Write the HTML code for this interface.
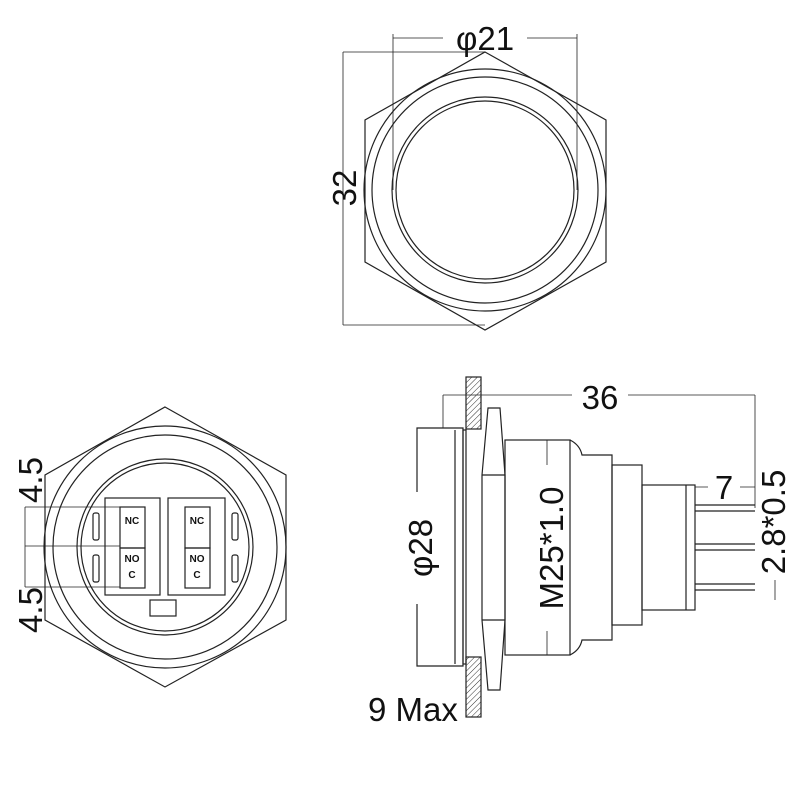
<html><body style="margin:0;background:#fff">
<svg width="800" height="800" viewBox="0 0 800 800" xmlns="http://www.w3.org/2000/svg" font-family="Liberation Sans, sans-serif">
<defs><pattern id="h" width="4" height="4" patternUnits="userSpaceOnUse" patternTransform="rotate(45)"><line x1="0" y1="0" x2="0" y2="4" stroke="#333" stroke-width="1"/></pattern></defs>
<g fill="none" stroke="#222" stroke-width="1.2">
<polygon points="485,52 606,120 606,262 485,330 365,262 365,120"/>
<circle cx="485" cy="190" r="121"/>
<circle cx="485" cy="190" r="113"/>
<circle cx="485" cy="190" r="93"/>
<circle cx="485" cy="190" r="89"/>
<line x1="393" y1="38" x2="577" y2="38" stroke-width="0.8"/>
<line x1="393" y1="34" x2="393" y2="190" stroke-width="0.8"/>
<line x1="577" y1="34" x2="577" y2="190" stroke-width="0.8"/>
<line x1="343" y1="52" x2="485" y2="52" stroke-width="0.8"/>
<line x1="343" y1="325" x2="485" y2="325" stroke-width="0.8"/>
<line x1="343" y1="52" x2="343" y2="325" stroke-width="0.8"/>
<polygon points="165,407 286,475 286,620 165,687 45,620 45,475"/>
<circle cx="165" cy="547" r="121"/>
<circle cx="165" cy="547" r="112"/>
<circle cx="165" cy="547" r="88"/>
<circle cx="165" cy="547" r="84"/>
<rect x="105" y="498" width="55" height="97"/>
<rect x="168" y="498" width="57" height="97"/>
<rect x="120" y="507" width="25" height="41"/>
<rect x="120" y="548" width="25" height="40"/>
<rect x="185" y="507" width="25" height="41"/>
<rect x="185" y="548" width="25" height="40"/>
<rect x="150" y="600" width="26" height="16"/>
<rect x="93" y="513" width="6" height="27" rx="2"/>
<rect x="93" y="555" width="6" height="27" rx="2"/>
<rect x="232" y="513" width="6" height="27" rx="2"/>
<rect x="232" y="555" width="6" height="27" rx="2"/>
<line x1="25" y1="507" x2="120" y2="507" stroke-width="0.8"/>
<line x1="25" y1="546" x2="120" y2="546" stroke-width="0.8"/>
<line x1="25" y1="587" x2="120" y2="587" stroke-width="0.8"/>
<line x1="25" y1="507" x2="25" y2="587" stroke-width="0.8"/>
<rect x="466" y="377" width="15" height="52" fill="url(#h)"/>
<rect x="466" y="657" width="15" height="60" fill="url(#h)"/>
<path d="M417,428 L463,428 L463,666 L417,666 Z"/>
<line x1="455" y1="430" x2="455" y2="664"/>
<rect x="463" y="430" width="3" height="234"/>
<polygon points="488,408 500,408 505,475 505,620 500,690 488,690 482,620 482,475"/>
<line x1="482" y1="475" x2="505" y2="475"/><line x1="482" y1="620" x2="505" y2="620"/>
<rect x="505" y="440" width="65" height="215"/>
<path d="M570,440 Q580,445 582,455 L612,455 L612,640 L582,640 Q580,650 570,655"/>
<rect x="612" y="465" width="30" height="160"/>
<rect x="642" y="485" width="53" height="125"/>
<line x1="686" y1="485" x2="686" y2="610"/>
<line x1="695" y1="505" x2="755" y2="505"/><line x1="695" y1="511" x2="755" y2="511"/>
<line x1="695" y1="544" x2="755" y2="544"/><line x1="695" y1="550" x2="755" y2="550"/>
<line x1="695" y1="584" x2="755" y2="584"/><line x1="695" y1="590" x2="755" y2="590"/>
<line x1="443" y1="395" x2="755" y2="395" stroke-width="0.8"/>
<line x1="443" y1="395" x2="443" y2="428" stroke-width="0.8"/>
<line x1="755" y1="395" x2="755" y2="508" stroke-width="0.8"/>
<line x1="695" y1="487" x2="755" y2="487" stroke-width="0.8"/>
<line x1="417" y1="428" x2="417" y2="666" stroke-width="0.8"/>
<line x1="547" y1="440" x2="547" y2="655" stroke-width="0.8"/>
<line x1="775" y1="580" x2="775" y2="600" stroke-width="0.8"/>
</g>
<g fill="#111">
<rect x="443" y="26" width="84" height="24" fill="#fff"/>
<text x="485" y="50" font-size="33" text-anchor="middle">φ21</text>
<text transform="translate(356,188) rotate(-90)" font-size="33" text-anchor="middle">32</text>
<text transform="translate(42,480) rotate(-90)" font-size="33" text-anchor="middle">4.5</text>
<text transform="translate(42,610) rotate(-90)" font-size="33" text-anchor="middle">4.5</text>
<g font-size="10" font-weight="bold" text-anchor="middle"><text x="132" y="524">NC</text><text x="132" y="562">NO</text><text x="132" y="578">C</text><text x="197" y="524">NC</text><text x="197" y="562">NO</text><text x="197" y="578">C</text></g>
<rect x="572" y="378" width="56" height="30" fill="#fff"/>
<text x="600" y="409" font-size="33" text-anchor="middle">36</text>
<rect x="708" y="473" width="32" height="27" fill="#fff"/>
<text x="724" y="499" font-size="33" text-anchor="middle">7</text>
<rect x="398" y="492" width="38" height="112" fill="#fff"/>
<text transform="translate(432,548) rotate(-90)" font-size="33" text-anchor="middle">φ28</text>
<rect x="532" y="465" width="32" height="166" fill="#fff"/>
<text transform="translate(563,548) rotate(-90)" font-size="33" text-anchor="middle">M25*1.0</text>
<text transform="translate(785,522) rotate(-90)" font-size="33" text-anchor="middle">2.8*0.5</text>
<text x="368" y="721" font-size="33">9 Max</text>
</g>
</svg></body></html>
